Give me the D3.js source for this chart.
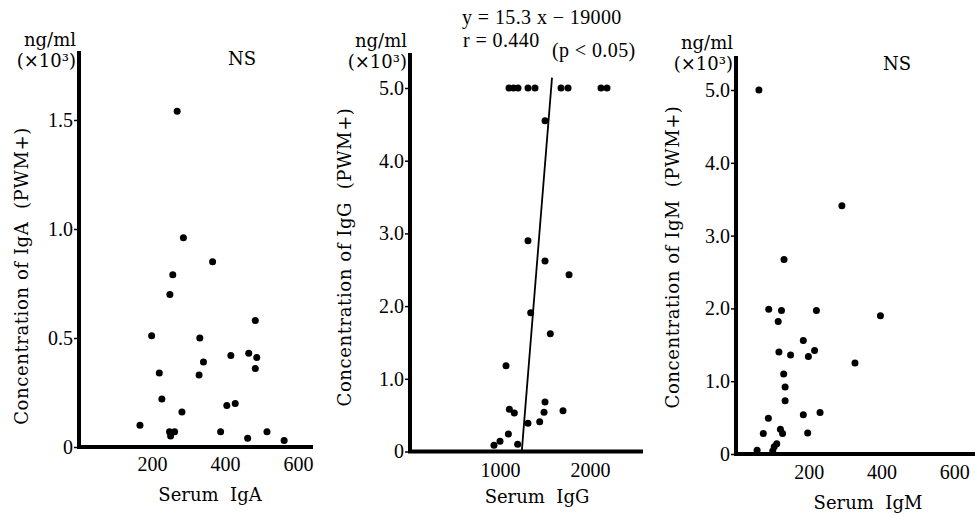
<!DOCTYPE html>
<html lang="en">
<head>
  <meta charset="utf-8">
  <title>PWM+ concentration vs serum immunoglobulin</title>
  <script src="https://d3js.org/d3.v7.min.js"></script>
  <style>
    body { margin: 0; background: #fff; }
    .lbl { font-family: "DejaVu Serif", serif; font-size: 18px; fill: #000; white-space: pre; }
    .num { font-family: "Liberation Serif", serif; font-size: 20px; fill: #000; white-space: pre; }
    .tick text { font-family: "Liberation Serif", serif; font-size: 20px; fill: #000; }
    .tick line { stroke: #000; stroke-width: 1.5; }
  </style>
</head>
<body>
<script>
// values (serum in mg/dl, concentration in ng/ml x 10^3)
const igaSerum = [269, 286, 366, 257, 249, 199, 331, 483, 341, 416, 465, 487, 483, 220, 329, 227, 405, 428, 282, 167, 248, 262, 251, 388, 462, 515, 562];
const igaConc  = [1.54, 0.96, 0.85, 0.79, 0.70, 0.51, 0.50, 0.58, 0.39, 0.42, 0.43, 0.41, 0.36, 0.34, 0.33, 0.22, 0.19, 0.20, 0.16, 0.10, 0.07, 0.07, 0.05, 0.07, 0.04, 0.07, 0.03];

const iggSerum = [1100, 1150, 1200, 1311, 1389, 1678, 1756, 2122, 2189, 1500, 1311, 1500, 1767, 1341, 1559, 1067, 1104, 1159, 1500, 1489, 1700, 1311, 1441, 1093, 1000, 933, 1196];
const iggConc  = [5.0, 5.0, 5.0, 5.0, 5.0, 5.0, 5.0, 5.0, 5.0, 4.55, 2.90, 2.62, 2.43, 1.91, 1.62, 1.18, 0.58, 0.53, 0.68, 0.54, 0.56, 0.39, 0.41, 0.24, 0.14, 0.085, 0.10];

const igmSerum = [63, 291, 132, 90, 125, 221, 397, 116, 185, 216, 118, 150, 199, 327, 131, 135, 135, 89, 185, 231, 75, 122, 128, 197, 112, 105, 58, 101];
const igmConc  = [5.0, 3.41, 2.67, 1.99, 1.97, 1.97, 1.90, 1.82, 1.56, 1.42, 1.40, 1.36, 1.34, 1.25, 1.10, 0.92, 0.73, 0.49, 0.54, 0.57, 0.28, 0.34, 0.28, 0.29, 0.14, 0.10, 0.05, 0.04];

// IgG regression y = 15.3x - 19000 (ng/ml)
const iggFit = { slope: 15.3, intercept: -19000, xFrom: 1242, xTo: 1578 };

const igaXTicks = [200, 400, 600];
const igaYTicks = [0, 0.5, 1.0, 1.5];
const iggXTicks = [1000, 2000];
const iggYTicks = [0, 1, 2, 3, 4, 5];
const igmXTicks = [200, 400, 600];
const igmYTicks = [0, 1, 2, 3, 4, 5];

const svg = d3.select("body").append("svg")
  .attr("width", 975).attr("height", 516);

const fmt = d => d === 0 ? "0" : d3.format(".1f")(d);

function drawPanel(cfg) {
  const x = d3.scaleLinear().domain([0, cfg.xMax]).range([cfg.x0, cfg.x1]);
  const y = d3.scaleLinear().domain([0, cfg.yMax]).range([cfg.y0, cfg.y1]);
  const g = svg.append("g");

  const ya = d3.axisLeft(y).tickValues(cfg.yTicks).tickSize(3).tickPadding(1).tickFormat(fmt);
  g.append("g").attr("transform", `translate(${cfg.x0 - 2},0)`).call(ya)
    .call(a => a.select(".domain").remove());

  const xa = d3.axisBottom(x).tickValues(cfg.xTicks).tickSize(0).tickPadding(cfg.xPad)
    .tickFormat(d3.format("d"));
  g.append("g").attr("transform", `translate(0,${cfg.y0})`).call(xa)
    .call(a => a.select(".domain").remove());

  // thick L-shaped axes
  g.append("path")
    .attr("d", `M${cfg.x0},${cfg.yTop}V${cfg.y0}H${cfg.xEnd}`)
    .attr("fill", "none").attr("stroke", "#000").attr("stroke-width", 4);

  if (cfg.fit) {
    const f = cfg.fit;
    const yv = v => (f.slope * v + f.intercept) / 1000;
    g.append("line")
      .attr("x1", x(f.xFrom)).attr("y1", y(yv(f.xFrom)))
      .attr("x2", x(f.xTo)).attr("y2", y(yv(f.xTo)))
      .attr("stroke", "#000").attr("stroke-width", 1.8);
  }

  g.selectAll("circle.pt")
    .data(cfg.xs.map((v, i) => [v, cfg.ys[i]]))
    .join("circle").attr("class", "pt")
    .attr("cx", d => x(d[0])).attr("cy", d => y(d[1]))
    .attr("r", 3.5).attr("fill", "#000");

  // unit text
  g.append("text").attr("class", "lbl").attr("text-anchor", "end")
    .attr("x", cfg.x0 - 3).attr("y", cfg.unitY).text("ng/ml");
  g.append("text").attr("class", "lbl").attr("text-anchor", "end")
    .attr("x", cfg.x0 - 3).attr("y", cfg.unitY + 21).text("(×10³)");

  // axis titles
  g.append("text").attr("class", "lbl").attr("text-anchor", "middle")
    .attr("letter-spacing", 0.6)
    .attr("transform", `translate(${cfg.yTitleX},${cfg.yTitleY}) rotate(-90)`)
    .attr("dy", "0.35em")
    .text(`Concentration of ${cfg.name}  (PWM+)`);
  g.append("text").attr("class", "lbl").attr("text-anchor", "middle")
    .attr("x", cfg.xTitleX).attr("y", cfg.xTitleY)
    .text(`Serum  ${cfg.name}`);

  if (cfg.ns) {
    g.append("text").attr("class", "lbl").attr("text-anchor", "middle")
      .attr("x", cfg.ns[0]).attr("y", cfg.ns[1]).text("NS");
  }
  return g;
}

drawPanel({
  name: "IgA", xs: igaSerum, ys: igaConc, xTicks: igaXTicks, yTicks: igaYTicks,
  xMax: 600, x0: 79, x1: 298, yMax: 1.5, y0: 447, y1: 120,
  xEnd: 313, yTop: 51, xPad: 10, unitY: 46,
  yTitleX: 22, yTitleY: 276, xTitleX: 210, xTitleY: 501, ns: [242, 65]
});

const pG = drawPanel({
  name: "IgG", xs: iggSerum, ys: iggConc, xTicks: iggXTicks, yTicks: iggYTicks,
  xMax: 2000, x0: 410, x1: 590, yMax: 5, y0: 451.5, y1: 88,
  xEnd: 643, yTop: 53, xPad: 11, unitY: 47, fit: iggFit,
  yTitleX: 345, yTitleY: 257, xTitleX: 537, xTitleY: 503
});
pG.append("text").attr("class", "num").attr("x", 462).attr("y", 24)
  .attr("letter-spacing", 0.4).text("y = 15.3 x − 19000");
pG.append("text").attr("class", "num").attr("x", 463).attr("y", 47)
  .attr("letter-spacing", 0.4).text("r = 0.440");
pG.append("text").attr("class", "num").attr("x", 552).attr("y", 57)
  .attr("letter-spacing", 0.4).text("(p < 0.05)");

drawPanel({
  name: "IgM", xs: igmSerum, ys: igmConc, xTicks: igmXTicks, yTicks: igmYTicks,
  xMax: 600, x0: 736, x1: 954.3, yMax: 5, y0: 454, y1: 90,
  xEnd: 975, yTop: 56, xPad: 11, unitY: 49,
  yTitleX: 673, yTitleY: 257, xTitleX: 868, xTitleY: 509, ns: [897, 70]
});
</script>
</body>
</html>
